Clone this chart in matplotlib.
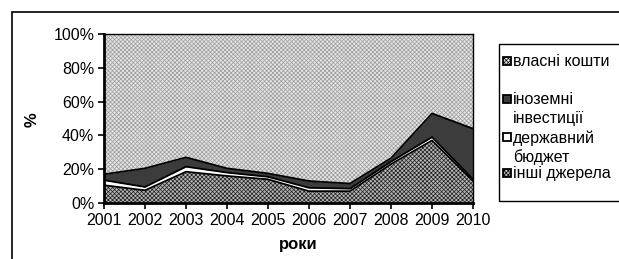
import matplotlib
matplotlib.use("Agg")
import matplotlib.pyplot as plt
from matplotlib.patches import Rectangle
import numpy as np

plt.rcParams['font.family'] = ['Liberation Sans', 'DejaVu Sans']
plt.rcParams['hatch.linewidth'] = 0.5

years = [2001, 2002, 2003, 2004, 2005, 2006, 2007, 2008, 2009, 2010]
inshi = [10.5, 7.5, 18.5, 16, 14, 7, 7, 23, 37, 13]
byudzhet = [3, 2, 3, 2, 1.5, 2, 1.5, 1.5, 2, 1]
inozemni = [3.5, 11, 5.5, 2.5, 2, 4, 3, 2, 14, 30]
vlasni = [100 - a - b - c for a, b, c in zip(inshi, byudzhet, inozemni)]

labels = ["власні кошти\n", "іноземні\nінвестиції", "державний\nбюджет", "інші джерела"]

W, H = 619, 259
fig = plt.figure(figsize=(W / 100, H / 100), dpi=100)
ax = fig.add_axes([104 / W, 1 - 203 / H, (473 - 104) / W, (203 - 34) / H])

layers = [inshi, byudzhet, inozemni, vlasni]
faces = ['#b4b4b4', 'white', '#3c3c3c', '#e4e4e4']
hatch_cols = ['#1e1e1e', 'white', '#3c3c3c', '#9c9c9c']
hatches = ['xxxxxxxx', None, None, 'xxxxxxxx']

bottom = np.zeros(len(years))
for vals, fc, hc, h in zip(layers, faces, hatch_cols, hatches):
    top = bottom + np.array(vals)
    ax.fill_between(years, bottom, top, facecolor=fc, edgecolor=hc, hatch=h, lw=0)
    bottom = top

# boundary lines
cum = np.cumsum(np.array(layers[:3]), axis=0)
for row in cum:
    ax.plot(years, row, color='black', lw=1.3)

ax.set_xlim(2001, 2010)
ax.set_ylim(0, 100)
ax.set_xticks(years)
ax.set_yticks(range(0, 101, 20))
ax.set_yticklabels([f"{v}%" for v in range(0, 101, 20)])
ax.tick_params(labelsize=11.5, length=4, width=1.2, direction='out', pad=3)
for s in ['left', 'bottom']:
    ax.spines[s].set_linewidth(2)
for s in ['top', 'right']:
    ax.spines[s].set_linewidth(1)

fig.text(32 / W, 1 - 120 / H, "%", rotation=90, fontsize=12, fontweight='bold',
         ha='center', va='center')
fig.text(298 / W, 1 - 245 / H, "роки", fontsize=12, fontweight='bold',
         ha='center', va='center')

# outer frame
fig.add_artist(Rectangle((12 / W, -0.2), 1.5, 1 - 12 / H + 0.2,
                         transform=fig.transFigure, fill=False, lw=1.2, color='black'))

# legend, drawn by hand so the markers sit on the first line
fig.add_artist(Rectangle((499 / W, 1 - 201 / H), 0.5, (201 - 44) / H,
                         transform=fig.transFigure, fill=False, lw=1, color='black'))
leg_y = [61, 99, 137, 173]
leg_order = [3, 2, 1, 0]
for y, idx in zip(leg_y, leg_order):
    fig.add_artist(Rectangle((503 / W, 1 - (y + 4) / H), 8 / W, 8 / H,
                             transform=fig.transFigure, facecolor=faces[idx],
                             edgecolor='black', lw=1.3, hatch=hatches[idx]))
    fig.text(513 / W, 1 - (y - 7) / H, labels[3 - idx], fontsize=11.5, va='top',
             ha='left', linespacing=1.3)

fig.savefig("out.png", dpi=100)
